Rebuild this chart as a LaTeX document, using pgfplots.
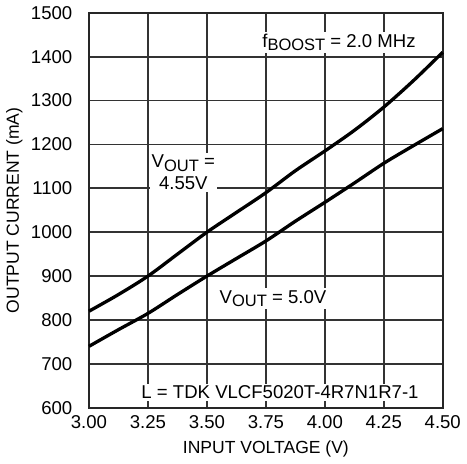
\documentclass[border=0pt]{standalone}
\usepackage{fontspec}
\setmainfont{Liberation Sans}
\usepackage{pgfplots}
\pgfplotsset{compat=1.18}

\newcommand{\sub}[1]{\raisebox{-0.35ex}{\fontsize{16}{16}\selectfont #1}}

\begin{document}
\fontsize{18}{21}\selectfont
\begin{tikzpicture}
\begin{axis}[
    scale only axis,
    width=343pt, height=383pt,
    xmin=3, xmax=4.5, ymin=600, ymax=1500,
    xtick={3,3.25,...,4.5},
    ytick={600,700,...,1500},
    xticklabel style={/pgf/number format/fixed, /pgf/number format/fixed zerofill,
      /pgf/number format/precision=2, yshift=-1pt},
    /pgf/number format/assume math mode=true,
    /pgf/number format/1000 sep={},
    tick label style={font=\fontsize{18}{21}\selectfont},
    yticklabel style={xshift=-10pt},
    label style={font=\fontsize{17}{20}\selectfont},
    xlabel={INPUT VOLTAGE (V)},
    ylabel={OUTPUT CURRENT (mA)},
    ylabel style={yshift=-4pt},
    grid=major,
    major grid style={solid, line width=1.8pt, draw=black!80},
    major tick length=0pt,
    axis line style={line width=2pt, black!85},
    clip=false,
]
\addplot[line width=3.2pt, black, smooth] coordinates {
  (3.000,820) (3.125,858) (3.250,900) (3.375,950) (3.500,1000)
  (3.625,1045) (3.750,1090) (3.875,1140) (4.000,1185) (4.125,1232)
  (4.250,1285) (4.375,1345) (4.500,1410)
};
\addplot[line width=3.2pt, black, smooth] coordinates {
  (3.000,740) (3.125,778) (3.250,815) (3.375,858) (3.500,900)
  (3.625,940) (3.750,980) (3.875,1025) (4.000,1068) (4.125,1112)
  (4.250,1157) (4.375,1197) (4.500,1236)
};
\node[fill=white, inner sep=2pt] at (axis cs:4.06,1432) {f\sub{BOOST} = 2.0 MHz};
\node[fill=white, inner sep=2pt, align=center] at (axis cs:3.40,1136) {V\sub{OUT} =\\4.55V};
\node[fill=white, inner sep=2pt] at (axis cs:3.78,849) {V\sub{OUT} = 5.0V};
\node[fill=white, inner sep=2pt] at (axis cs:3.81,635) {L = TDK VLCF5020T-4R7N1R7-1};
\end{axis}
\end{tikzpicture}
\end{document}
